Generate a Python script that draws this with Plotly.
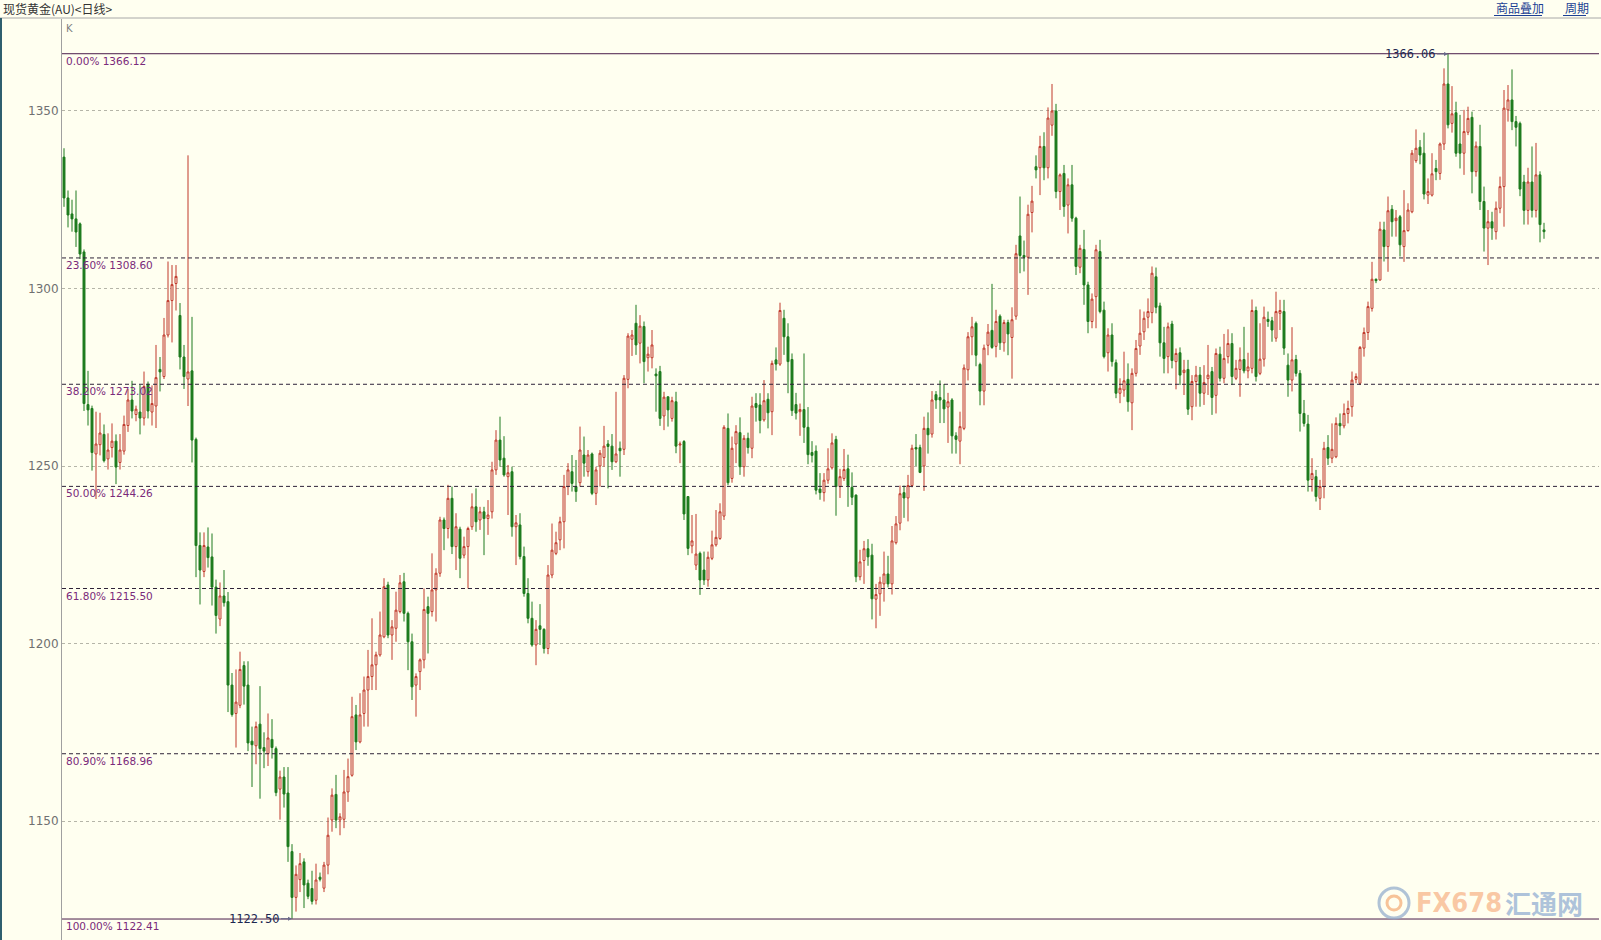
import plotly.graph_objects as go

# ---------------- data ----------------
opens = [
1337.0,1325.5,1321.0,1319.6,1318.2,1310.3,1267.3,1266.2,1253.4,1256.0,
1258.9,1252.0,1255.2,1257.0,1251.0,1254.2,1261.4,1268.6,1264.5,1265.2,
1263.5,1273.0,1265.2,1266.9,1277.2,1275.2,1286.9,1296.6,1301.4,1292.4,
1280.7,1274.5,1276.8,1257.5,1227.6,1220.3,1227.2,1224.4,1215.9,1206.9,
1213.4,1211.8,1188.3,1180.3,1182.6,1193.8,1188.3,1172.5,1171.2,1177.3,
1170.7,1169.0,1173.0,1170.4,1159.0,1162.4,1157.9,1141.4,1128.5,1133.5,
1138.5,1132.5,1131.0,1127.7,1134.2,1131.1,1137.6,1150.3,1157.5,1150.3,
1150.5,1158.2,1162.9,1179.9,1172.3,1180.3,1186.9,1190.7,1194.0,1196.8,
1201.9,1216.5,1202.4,1204.3,1209.0,1217.4,1208.5,1200.5,1188.3,1192.1,
1195.4,1210.4,1209.0,1215.1,1219.8,1234.8,1232.4,1240.9,1227.3,1232.2,
1224.9,1227.3,1232.9,1238.5,1234.8,1237.1,1235.2,1237.1,1248.9,1257.3,
1252.2,1247.0,1248.4,1232.9,1233.4,1224.5,1214.1,1207.1,1199.6,1205.0,
1204.0,1198.6,1219.3,1225.4,1229.2,1234.3,1244.2,1248.4,1244.2,1245.3,
1253.1,1248.4,1253.4,1242.3,1250.0,1252.4,1256.2,1255.6,1251.2,1255.0,
1254.7,1274.4,1285.7,1290.2,1284.6,1289.3,1280.5,1280.5,1275.9,1276.6,
1264.1,1269.5,1263.4,1268.1,1255.9,1256.9,1241.4,1227.5,1222.1,1225.4,
1220.7,1217.9,1224.0,1227.8,1229.6,1235.9,1260.6,1246.5,1256.2,1259.4,
1249.8,1257.8,1255.0,1267.6,1267.2,1263.0,1268.8,1265.3,1279.9,1278.7,
1291.6,1286.4,1280.0,1267.3,1265.3,1265.9,1260.9,1253.8,1254.2,1243.5,
1242.5,1246.0,1249.5,1257.5,1244.2,1246.5,1249.2,1244.0,1241.8,1218.8,
1223.4,1226.7,1224.9,1212.5,1214.0,1216.8,1219.6,1216.8,1228.4,1233.9,
1242.5,1241.0,1244.5,1255.2,1255.2,1250.0,1260.6,1259.0,1270.1,1269.3,
1268.6,1266.6,1268.6,1258.5,1257.0,1260.6,1277.1,1286.4,1290.2,1278.6,
1271.1,1284.0,1288.2,1283.7,1292.2,1284.7,1290.4,1286.2,1292.2,1314.8,
1309.3,1308.8,1321.4,1334.3,1334.0,1340.0,1334.0,1346.0,1350.0,1327.3,
1332.4,1323.5,1329.2,1319.8,1306.0,1311.0,1301.0,1290.7,1297.7,1310.4,
1293.9,1281.9,1286.9,1279.1,1270.5,1271.4,1274.4,1267.8,1276.1,1283.8,
1287.8,1291.9,1293.2,1303.3,1295.1,1284.7,1280.8,1290.0,1279.4,1281.9,
1276.3,1277.2,1266.7,1273.8,1275.6,1270.5,1274.6,1276.6,1269.9,1281.5,
1274.7,1280.8,1284.5,1274.7,1277.2,1280.0,1276.8,1277.5,1293.8,1276.1,
1280.1,1291.3,1290.9,1286.0,1293.0,1293.5,1278.4,1274.2,1280.0,1276.1,
1264.8,1261.8,1246.2,1247.0,1240.9,1244.2,1255.2,1252.2,1252.6,1262.0,
1261.3,1264.8,1266.7,1274.4,1273.3,1283.2,1287.6,1294.4,1302.6,1302.4,
1316.5,1311.8,1322.3,1319.1,1320.2,1311.8,1316.3,1321.6,1336.0,1339.8,
1338.1,1326.3,1326.3,1333.8,1332.4,1340.7,1357.6,1346.5,1349.5,1340.7,
1338.1,1344.0,1348.2,1332.9,1340.0,1324.5,1317.0,1318.8,1316.0,1322.6,
1328.7,1350.3,1353.1,1347.0,1346.5,1330.0,1322.0,1330.0,1322.0,1332.0,
1316.5,
]
highs = [
1339.5,1327.6,1325.0,1327.6,1318.6,1311.0,1276.8,1267.0,1265.3,1265.0,
1261.7,1259.2,1262.0,1258.9,1259.0,1264.2,1271.7,1274.0,1267.0,1272.8,
1276.6,1273.8,1272.7,1284.1,1280.7,1291.7,1307.6,1306.6,1306.6,1295.9,
1284.1,1337.5,1292.0,1258.0,1231.3,1231.3,1232.7,1231.0,1218.0,1217.2,
1220.7,1214.5,1191.7,1192.7,1197.7,1195.0,1195.0,1176.6,1178.0,1188.0,
1175.0,1180.3,1178.7,1171.0,1164.2,1165.2,1165.2,1143.5,1137.5,1141.0,
1139.5,1133.5,1136.0,1138.0,1135.5,1138.5,1151.0,1159.2,1163.0,1152.2,
1164.4,1167.6,1185.0,1182.7,1186.0,1190.7,1198.2,1207.1,1197.7,1209.0,
1218.4,1217.4,1206.6,1214.6,1219.3,1219.9,1209.0,1202.8,1191.6,1195.8,
1215.5,1213.2,1225.4,1221.2,1235.7,1235.5,1244.7,1244.2,1236.7,1232.9,
1230.1,1232.9,1242.3,1243.7,1238.5,1238.5,1240.4,1251.2,1260.1,1263.9,
1258.4,1250.3,1249.8,1236.2,1236.7,1227.3,1218.4,1211.8,1206.6,1211.1,
1204.3,1222.1,1233.8,1231.5,1235.7,1247.5,1250.8,1253.1,1251.7,1261.1,
1258.3,1254.5,1253.8,1249.8,1254.5,1261.3,1257.3,1259.0,1270.9,1256.9,
1275.6,1287.4,1288.3,1295.4,1292.5,1290.7,1283.6,1288.3,1277.5,1278.2,
1270.9,1269.5,1269.5,1270.9,1256.9,1257.3,1241.4,1236.2,1236.5,1225.9,
1225.9,1225.9,1231.8,1237.6,1239.5,1261.5,1264.8,1258.3,1261.5,1263.7,
1258.7,1259.4,1269.5,1270.5,1270.5,1274.2,1270.5,1279.7,1283.4,1296.0,
1294.0,1290.2,1281.7,1270.6,1267.6,1281.7,1266.6,1257.0,1255.8,1248.0,
1248.0,1255.0,1259.2,1258.5,1249.2,1254.8,1253.2,1248.2,1242.0,1226.4,
1228.9,1229.4,1228.1,1216.8,1218.8,1225.9,1224.7,1233.1,1235.9,1244.5,
1244.5,1247.5,1256.0,1259.0,1256.0,1263.9,1265.1,1271.1,1271.1,1274.1,
1273.1,1270.6,1269.1,1259.5,1265.3,1278.6,1287.7,1292.0,1290.7,1279.1,
1284.2,1290.0,1301.3,1294.0,1292.7,1291.2,1291.2,1294.7,1312.3,1325.9,
1313.5,1323.6,1328.9,1337.5,1343.0,1344.0,1351.0,1357.6,1352.0,1332.4,
1334.8,1331.0,1334.8,1320.2,1312.3,1316.5,1301.9,1298.6,1312.3,1313.7,
1296.3,1288.8,1290.2,1280.0,1274.7,1282.2,1278.9,1277.5,1285.5,1294.1,
1293.5,1297.2,1306.2,1305.9,1296.0,1289.2,1290.4,1290.9,1283.1,1283.4,
1279.9,1279.9,1275.6,1278.2,1277.9,1278.4,1284.1,1277.9,1283.1,1283.6,
1287.2,1288.5,1287.4,1279.9,1283.4,1289.2,1281.9,1296.9,1294.9,1290.2,
1294.9,1293.5,1292.0,1299.1,1296.8,1296.8,1281.7,1289.1,1281.3,1277.0,
1268.6,1264.4,1252.2,1248.9,1246.1,1256.8,1258.7,1262.0,1263.7,1264.8,
1267.6,1268.4,1276.6,1276.1,1283.8,1289.0,1296.3,1307.5,1302.8,1318.8,
1318.8,1325.9,1323.5,1322.1,1320.7,1327.7,1324.0,1339.0,1344.8,1341.8,
1343.9,1331.0,1338.1,1336.2,1341.1,1362.0,1366.06,1357.0,1352.6,1348.9,
1350.3,1351.2,1349.8,1341.4,1346.1,1328.7,1322.1,1321.6,1324.5,1331.5,
1355.9,1357.3,1361.7,1348.6,1347.0,1332.0,1334.0,1340.0,1341.0,1333.0,
1318.5,
]
lows = [
1323.0,1317.2,1316.0,1311.7,1308.3,1265.5,1261.4,1248.7,1240.7,1253.0,
1251.0,1249.0,1252.4,1244.9,1249.0,1253.2,1259.6,1263.4,1262.6,1258.9,
1261.4,1263.4,1261.4,1260.7,1271.0,1274.5,1286.2,1284.8,1293.8,1277.2,
1271.7,1266.9,1251.0,1218.7,1211.0,1218.7,1221.4,1210.7,1202.8,1204.9,
1210.4,1180.7,1179.4,1170.7,1181.8,1182.8,1169.7,1159.6,1166.0,1156.3,
1164.9,1165.5,1167.6,1157.0,1150.4,1153.8,1138.5,1122.5,1124.5,1130.0,
1125.5,1128.0,1126.5,1126.5,1133.0,1130.0,1135.0,1147.0,1148.0,1146.0,
1148.0,1155.4,1162.5,1170.0,1171.9,1176.6,1176.6,1186.9,1186.9,1196.3,
1201.5,1201.5,1195.4,1200.5,1208.5,1206.2,1192.5,1184.1,1179.4,1186.9,
1193.0,1197.2,1207.6,1206.2,1218.8,1226.3,1229.6,1225.2,1220.7,1218.4,
1224.0,1215.5,1232.0,1231.5,1232.0,1224.9,1230.6,1235.2,1247.5,1249.8,
1247.0,1236.2,1230.1,1222.1,1223.7,1213.2,1205.7,1199.1,1193.9,1199.6,
1197.2,1197.0,1218.4,1224.9,1226.3,1226.8,1241.8,1242.8,1239.9,1244.2,
1247.0,1247.0,1241.8,1239.0,1244.2,1249.8,1243.7,1248.9,1250.8,1247.0,
1253.1,1271.9,1281.0,1281.3,1278.9,1273.3,1276.6,1277.5,1265.3,1261.3,
1260.1,1261.1,1262.5,1253.6,1250.8,1234.8,1224.9,1225.4,1220.7,1213.7,
1216.5,1216.0,1223.5,1227.3,1229.2,1234.8,1244.6,1245.3,1250.8,1247.5,
1247.0,1253.5,1252.2,1262.5,1259.2,1262.5,1260.6,1258.7,1276.9,1278.2,
1281.3,1270.5,1264.1,1263.1,1258.5,1256.5,1250.5,1251.0,1242.0,1240.5,
1240.0,1245.0,1249.0,1236.0,1241.0,1245.8,1238.5,1239.0,1217.3,1217.8,
1216.8,1221.9,1206.8,1204.3,1207.8,1211.8,1215.8,1213.8,1227.9,1231.9,
1235.4,1234.4,1244.0,1250.0,1248.0,1243.0,1253.5,1258.0,1266.1,1262.1,
1262.1,1256.5,1253.5,1253.5,1250.5,1260.1,1274.1,1281.2,1278.1,1267.1,
1267.1,1281.2,1283.0,1280.6,1282.7,1282.2,1281.2,1274.6,1291.2,1304.3,
1304.8,1298.2,1315.8,1331.0,1326.3,1330.5,1331.0,1343.0,1325.4,1322.1,
1320.2,1315.5,1318.8,1303.8,1304.3,1295.4,1287.4,1288.8,1288.8,1293.0,
1280.3,1276.6,1278.0,1269.1,1267.7,1269.5,1265.3,1260.1,1275.2,1281.3,
1285.5,1288.8,1290.2,1293.0,1280.8,1276.1,1276.1,1277.5,1271.6,1272.8,
1270.0,1264.4,1262.9,1266.7,1266.7,1267.2,1270.0,1264.4,1264.8,1273.8,
1273.3,1278.9,1272.8,1274.2,1269.5,1276.1,1274.7,1276.1,1273.8,1275.6,
1278.0,1289.2,1285.0,1285.0,1288.3,1281.3,1269.5,1271.0,1275.2,1259.7,
1261.1,1242.8,1242.8,1240.0,1237.6,1240.9,1250.3,1250.8,1252.2,1258.7,
1260.6,1262.0,1263.9,1273.3,1272.8,1280.8,1285.5,1293.5,1301.5,1302.2,
1307.6,1304.7,1314.6,1314.6,1309.0,1307.5,1316.0,1321.2,1335.4,1335.0,
1325.1,1323.8,1325.9,1330.5,1330.6,1339.0,1345.1,1343.9,1337.1,1333.8,
1332.0,1343.2,1326.8,1331.5,1322.1,1310.4,1306.6,1313.7,1313.8,1321.2,
1317.4,1347.0,1344.6,1340.0,1326.0,1318.0,1318.0,1320.0,1320.0,1313.0,
1314.0,
]
closes = [
1325.5,1320.7,1319.6,1315.9,1309.7,1267.6,1265.8,1253.8,1256.2,1259.3,
1251.5,1254.5,1257.0,1249.7,1254.5,1261.7,1268.6,1265.5,1266.0,1263.5,
1272.4,1265.5,1267.6,1274.9,1276.5,1286.9,1296.6,1301.1,1303.4,1280.7,
1275.2,1276.5,1257.3,1227.6,1220.7,1227.6,1224.2,1215.9,1207.9,1213.4,
1211.5,1188.3,1180.0,1183.5,1192.7,1188.0,1172.0,1171.5,1176.6,1170.4,
1169.7,1173.4,1170.7,1158.0,1162.4,1157.6,1142.8,1128.5,1135.0,1138.0,
1132.0,1128.8,1127.4,1133.4,1133.6,1137.6,1146.0,1157.3,1150.3,1151.2,
1158.2,1162.5,1179.4,1172.3,1179.9,1186.9,1190.7,1194.0,1196.8,1202.4,
1216.0,1202.4,1204.7,1209.4,1217.1,1208.5,1200.5,1187.8,1190.7,1195.4,
1209.6,1208.5,1215.1,1219.8,1234.8,1232.4,1240.9,1227.3,1232.9,1224.0,
1227.3,1232.4,1238.5,1234.3,1237.1,1235.2,1236.2,1248.9,1257.3,1251.7,
1247.5,1248.1,1232.9,1234.0,1224.5,1214.1,1207.1,1199.6,1204.0,1204.0,
1198.6,1219.3,1226.3,1228.4,1234.3,1244.2,1248.9,1245.1,1242.8,1254.5,
1250.8,1253.1,1242.3,1248.9,1253.6,1255.6,1255.5,1251.2,1253.4,1254.3,
1274.7,1286.6,1286.9,1284.1,1289.4,1279.4,1281.5,1284.1,1275.4,1263.4,
1269.4,1265.8,1268.4,1255.6,1256.2,1236.5,1226.8,1228.9,1225.2,1217.9,
1217.9,1224.3,1227.8,1229.9,1237.1,1260.9,1245.3,1255.0,1259.7,1249.8,
1257.8,1255.2,1266.9,1266.5,1262.8,1268.4,1265.0,1278.9,1278.7,1293.8,
1286.4,1279.4,1265.6,1264.9,1265.9,1260.9,1253.2,1253.0,1243.2,1242.5,
1246.0,1249.2,1256.5,1244.2,1247.0,1249.0,1244.5,1241.2,1218.8,1223.0,
1226.7,1224.4,1212.6,1213.8,1217.3,1219.6,1216.8,1228.9,1233.7,1242.2,
1241.0,1244.5,1255.0,1254.8,1248.2,1260.6,1258.8,1268.6,1268.6,1268.6,
1266.1,1268.1,1258.5,1257.5,1261.1,1277.6,1286.4,1289.2,1281.2,1271.1,
1283.2,1287.7,1283.4,1290.7,1284.7,1290.4,1287.2,1291.2,1309.8,1309.3,
1308.8,1320.9,1324.6,1333.4,1340.0,1334.0,1348.0,1350.0,1327.3,1332.0,
1323.1,1329.2,1319.8,1306.2,1311.3,1301.0,1290.7,1297.0,1310.9,1293.5,
1280.8,1286.9,1279.4,1270.5,1271.9,1274.0,1268.1,1276.1,1283.1,1287.4,
1291.6,1293.5,1304.3,1294.7,1284.7,1280.3,1289.2,1279.7,1281.7,1275.6,
1277.0,1266.0,1273.8,1275.6,1270.5,1273.5,1275.6,1269.3,1281.7,1274.7,
1280.3,1284.5,1275.2,1277.5,1279.9,1276.8,1277.9,1293.8,1275.2,1280.1,
1291.9,1290.7,1288.3,1293.5,1293.8,1283.2,1274.2,1279.9,1276.1,1264.8,
1262.0,1246.0,1247.9,1241.4,1244.2,1255.0,1252.2,1254.7,1262.0,1261.3,
1264.8,1266.2,1274.2,1275.2,1283.4,1287.6,1294.9,1302.6,1302.2,1316.7,
1311.8,1321.9,1318.8,1319.8,1312.3,1316.3,1322.1,1338.1,1339.5,1337.6,
1326.6,1327.3,1332.3,1332.9,1340.7,1357.6,1346.1,1349.2,1338.1,1338.1,
1344.2,1347.9,1332.9,1340.1,1324.5,1317.0,1318.8,1317.0,1322.6,1328.7,
1350.8,1353.1,1347.0,1345.4,1328.0,1322.0,1330.0,1322.0,1332.0,1318.0,
1316.0,
]

# Fibonacci retracement levels
fib_labels = ["0.00% 1366.12", "23.60% 1308.60", "38.20% 1273.02", "50.00% 1244.26",
              "61.80% 1215.50", "80.90% 1168.96", "100.00% 1122.41"]
fib_levels = [1366.12, 1308.60, 1273.02, 1244.26, 1215.50, 1168.96, 1122.41]
fib_solid = [True, False, False, False, False, False, True]

y_ticks = [1150, 1200, 1250, 1300, 1350]
high_mark = (346, 1366.06, "1366.06")
low_mark = (57, 1122.50, "1122.50")

title_text = "现货黄金(AU)<日线>"
link_texts = ["商品叠加", "周期"]

# ---------------- figure ----------------
W, H = 1601, 940
ML, MR, MT, MB = 62, 2, 19, 0
PW, PH = W - ML - MR, H - MT - MB
BG = "#FFFFF0"

def px_x(px):
    return (px - ML) / PW

def px_y(py):
    return (H - MB - py) / PH

xs = list(range(len(opens)))

fig = go.Figure()
fig.add_trace(go.Candlestick(
    x=xs, open=opens, high=highs, low=lows, close=closes,
    increasing=dict(line=dict(color="#C0392B", width=1), fillcolor=BG),
    decreasing=dict(line=dict(color="#1E7B1E", width=1), fillcolor="#1E7B1E"),
    whiskerwidth=0, showlegend=False, hoverinfo="skip",
))

shapes = []
annotations = []

for lab, lv, solid in zip(fib_labels, fib_levels, fib_solid):
    shapes.append(dict(type="line", xref="paper", yref="y", x0=0, x1=1, y0=lv, y1=lv,
                       line=dict(color="#4A1B4A" if solid else "#2E2238", width=1,
                                 dash="solid" if solid else "4px,3px"), layer="above"))
    annotations.append(dict(xref="paper", yref="y", x=px_x(64), y=lv, text=lab,
                            showarrow=False, xanchor="left", yanchor="top", yshift=1,
                            font=dict(family="DejaVu Sans", size=10.5, color="#7A2A7A")))

for (mx, my, mt) in (high_mark, low_mark):
    annotations.append(dict(x=mx, y=my, xref="x", yref="y", text=mt, showarrow=True,
                            ax=-38, ay=0, arrowhead=2, arrowsize=0.8, arrowwidth=1,
                            arrowcolor="#6A6A8A",
                            font=dict(family="DejaVu Sans Mono", size=12, color="#1E2850")))

# Header
shapes.append(dict(type="line", xref="paper", yref="paper", x0=px_x(0), x1=px_x(W),
                   y0=px_y(18), y1=px_y(18), line=dict(color="#A8A8A8", width=1)))
shapes.append(dict(type="line", xref="paper", yref="paper", x0=px_x(1), x1=px_x(1),
                   y0=px_y(H), y1=px_y(18), line=dict(color="#2F5F6F", width=2)))
annotations.append(dict(xref="paper", yref="paper", x=px_x(1), y=px_y(9), text=title_text,
                        showarrow=False, xanchor="left", yanchor="middle",
                        font=dict(family="Noto Sans CJK SC", size=12, color="#333333")))
link_pos = [(1494, 1542), (1563, 1586)]
for t, (x0, x1) in zip(link_texts, link_pos):
    annotations.append(dict(xref="paper", yref="paper", x=px_x(x0), y=px_y(8), text=t,
                            showarrow=False, xanchor="left", yanchor="middle",
                            font=dict(family="Noto Sans CJK SC", size=12, color="#1C3F94")))
    shapes.append(dict(type="line", xref="paper", yref="paper", x0=px_x(x0), x1=px_x(x1),
                       y0=px_y(15.5), y1=px_y(15.5), line=dict(color="#1C3F94", width=1)))
annotations.append(dict(xref="paper", yref="paper", x=px_x(64), y=px_y(28), text="K",
                        showarrow=False, xanchor="left", yanchor="middle",
                        font=dict(family="DejaVu Sans", size=10, color="#808080")))

# Watermark
shapes.append(dict(type="circle", xref="paper", yref="paper", x0=px_x(1379), x1=px_x(1409),
                   y0=px_y(918), y1=px_y(888), line=dict(color="rgba(150,175,205,0.75)", width=3)))
shapes.append(dict(type="circle", xref="paper", yref="paper", x0=px_x(1387), x1=px_x(1401),
                   y0=px_y(910), y1=px_y(896), line=dict(color="rgba(245,180,130,0.8)", width=3)))
annotations.append(dict(xref="paper", yref="paper", x=px_x(1414), y=px_y(902), text="<b>FX678</b>",
                        showarrow=False, xanchor="left", yanchor="middle",
                        font=dict(family="DejaVu Sans Condensed", size=27,
                                  color="rgba(248,190,150,0.85)")))
annotations.append(dict(xref="paper", yref="paper", x=px_x(1503), y=px_y(902), text="<b>汇通网</b>",
                        showarrow=False, xanchor="left", yanchor="middle",
                        font=dict(family="Noto Sans CJK SC", size=26, color="rgba(160,185,215,0.85)")))

fig.update_layout(
    width=W, height=H, margin=dict(l=ML, r=MR, t=MT, b=MB, pad=0),
    paper_bgcolor=BG, plot_bgcolor=BG,
    shapes=shapes, annotations=annotations,
    xaxis=dict(range=[-0.5, -0.5 + PW / 4.0], showgrid=False, showticklabels=False,
               zeroline=False, rangeslider=dict(visible=False), fixedrange=True),
    yaxis=dict(range=[1116.5, 1375.9], tickvals=y_ticks, ticks="",
               showgrid=True, gridcolor="#B5B5A8", griddash="dot", gridwidth=1,
               zeroline=False, showline=True, linecolor="#A0A0A0", linewidth=1,
               tickfont=dict(family="DejaVu Sans", size=12, color="#707070"),
               fixedrange=True),
    font=dict(family="DejaVu Sans"),
)

fig.write_html("out.html", config={"displayModeBar": False},
               post_script="document.body.style.margin='0';document.body.style.overflow='hidden';")
